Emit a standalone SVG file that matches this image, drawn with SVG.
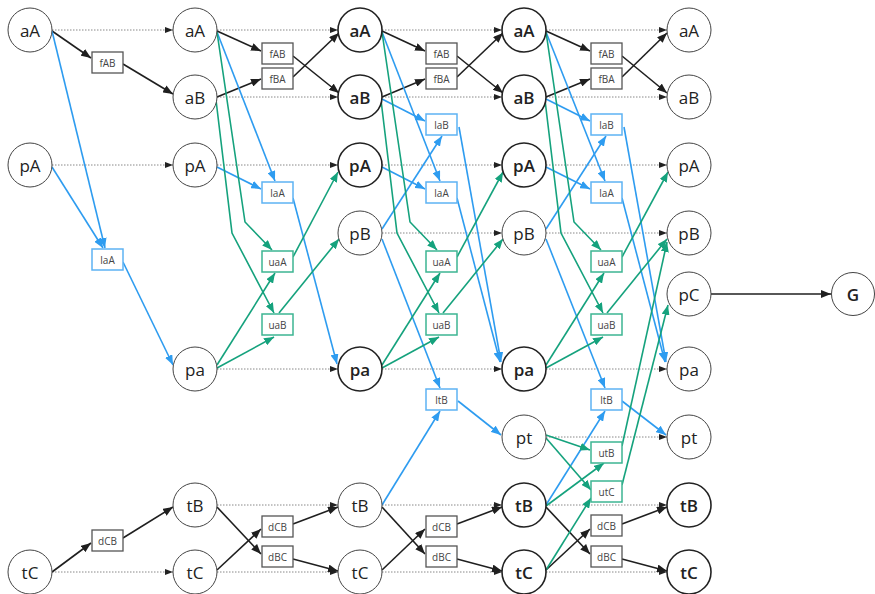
<svg xmlns="http://www.w3.org/2000/svg" width="875" height="594" viewBox="0 0 875 594">
<defs>
<style>
.c{fill:#fff;stroke:#444;stroke-width:1}
.cb{fill:#fff;stroke:#222;stroke-width:1.6}
.t{font-family:"Open Sans","Noto Sans","DejaVu Sans",sans-serif;font-size:17px;fill:#222;text-anchor:middle;dominant-baseline:central}
.tb{font-weight:600}
.bk{fill:#fff;stroke:#555;stroke-width:1.3}
.bbl{fill:#fff;stroke:#5db3f3;stroke-width:1.5}
.bgr{fill:#fff;stroke:#3db592;stroke-width:1.5}
.bt{font-family:"Open Sans","Noto Sans","DejaVu Sans",sans-serif;font-size:10px;fill:#444;text-anchor:middle;dominant-baseline:central}
.ek{fill:none;stroke:#1f1f1f;stroke-width:1.6;marker-end:url(#ak)}
.eb{fill:none;stroke:#2e9cf0;stroke-width:1.6;marker-end:url(#ab)}
.eg{fill:none;stroke:#15a27d;stroke-width:1.6;marker-end:url(#ag)}
.ed{fill:none;stroke:#888;stroke-width:1;stroke-dasharray:1.5 1.5;marker-end:url(#ad)}
</style>
<marker id="ak" viewBox="0 0 10 8" refX="10" refY="4" markerWidth="10" markerHeight="8" orient="auto" markerUnits="userSpaceOnUse"><path d="M0,0L10,4L0,8z" fill="#1f1f1f"/></marker>
<marker id="ab" viewBox="0 0 10 8" refX="10" refY="4" markerWidth="10" markerHeight="8" orient="auto" markerUnits="userSpaceOnUse"><path d="M0,0L10,4L0,8z" fill="#2e9cf0"/></marker>
<marker id="ag" viewBox="0 0 10 8" refX="10" refY="4" markerWidth="10" markerHeight="8" orient="auto" markerUnits="userSpaceOnUse"><path d="M0,0L10,4L0,8z" fill="#15a27d"/></marker>
<marker id="ad" viewBox="0 0 8 6" refX="8" refY="3" markerWidth="8" markerHeight="6" orient="auto" markerUnits="userSpaceOnUse"><path d="M0,0L8,3L0,6z" fill="#222"/></marker>
</defs>
<rect width="875" height="594" fill="#fff"/>

<g id="connectors">
<!-- dotted persistence lines -->
<path class="ed" d="M52,30H173"/>
<path class="ed" d="M217,30H338"/>
<path class="ed" d="M382,30H502"/>
<path class="ed" d="M546,30H667"/>
<path class="ed" d="M217,97H338"/>
<path class="ed" d="M382,97H502"/>
<path class="ed" d="M546,97H667"/>
<path class="ed" d="M52,165H173"/>
<path class="ed" d="M217,165H338"/>
<path class="ed" d="M382,165H502"/>
<path class="ed" d="M546,165H667"/>
<path class="ed" d="M382,233H502"/>
<path class="ed" d="M546,233H667"/>
<path class="ed" d="M217,369H338"/>
<path class="ed" d="M382,369H502"/>
<path class="ed" d="M546,369H667"/>
<path class="ed" d="M546,437H667"/>
<path class="ed" d="M217,505H338"/>
<path class="ed" d="M382,505H502"/>
<path class="ed" d="M546,505H667"/>
<path class="ed" d="M52,572H173"/>
<path class="ed" d="M217,572H338"/>
<path class="ed" d="M382,572H502"/>
<path class="ed" d="M546,572H667"/>

<!-- layer 1 -> 2 -->
<path class="ek" d="M52,31L91,58"/>
<path class="ek" d="M123,64L173,94"/>
<path class="eb" d="M52,31L105,248"/>
<path class="eb" d="M52,167L103,248"/>
<path class="eb" d="M123,262L173,365"/>
<path class="ek" d="M52,572L91,543"/>
<path class="ek" d="M123,538L173,507"/>

<!-- layer 2 -> 3 -->
<path class="ek" d="M217,31L261,51"/>
<path class="ek" d="M217,97L261,79"/>
<path class="ek" d="M293,56L339,93"/>
<path class="ek" d="M293,77L339,33"/>
<path class="ek" d="M217,507L261,554"/>
<path class="ek" d="M217,570L261,529"/>
<path class="ek" d="M293,524L338,507"/>
<path class="ek" d="M293,559L338,571"/>
<path class="eb" d="M217,32L275,181"/>
<path class="eb" d="M217,167L261,189"/>
<path class="eb" d="M293,198L337,364"/>
<path class="eg" d="M217,32L245,222L272,250"/>
<path class="eg" d="M216,100L232,233L274,313"/>
<path class="eg" d="M217,365L275,273"/>
<path class="eg" d="M217,368L274,337"/>
<path class="eg" d="M293,257L338,172"/>
<path class="eg" d="M279,313L339,239"/>

<!-- layer 3 -> 4 -->
<path class="ek" d="M382,31L425,51"/>
<path class="ek" d="M382,97L425,79"/>
<path class="ek" d="M457,56L503,93"/>
<path class="ek" d="M457,77L503,33"/>
<path class="ek" d="M382,507L425,554"/>
<path class="ek" d="M382,570L425,529"/>
<path class="ek" d="M457,524L502,507"/>
<path class="ek" d="M457,559L502,571"/>
<path class="eb" d="M382,32L440,181"/>
<path class="eb" d="M382,167L425,189"/>
<path class="eb" d="M382,99L425,121"/>
<path class="eb" d="M382,229L442,136"/>
<path class="eb" d="M457,198L500,362"/>
<path class="eb" d="M459,127L501,362"/>
<path class="eb" d="M382,505L440,411"/>
<path class="eb" d="M382,239L440,388"/>
<path class="eb" d="M458,401L501,435"/>
<path class="eg" d="M382,32L410,222L437,250"/>
<path class="eg" d="M381,100L397,233L439,313"/>
<path class="eg" d="M382,365L440,273"/>
<path class="eg" d="M382,368L439,337"/>
<path class="eg" d="M457,257L503,172"/>
<path class="eg" d="M443,313L503,239"/>

<!-- layer 4 -> 5 -->
<path class="ek" d="M546,31L590,51"/>
<path class="ek" d="M546,97L590,79"/>
<path class="ek" d="M622,56L667,93"/>
<path class="ek" d="M622,77L667,33"/>
<path class="ek" d="M546,507L590,554"/>
<path class="ek" d="M546,570L590,529"/>
<path class="ek" d="M622,524L667,507"/>
<path class="ek" d="M622,559L667,571"/>
<path class="eb" d="M546,32L605,181"/>
<path class="eb" d="M546,167L590,189"/>
<path class="eb" d="M546,99L590,121"/>
<path class="eb" d="M546,229L606,136"/>
<path class="eb" d="M622,198L665,362"/>
<path class="eb" d="M624,127L666,362"/>
<path class="eb" d="M546,505L605,411"/>
<path class="eb" d="M546,239L605,388"/>
<path class="eb" d="M622,401L666,435"/>
<path class="eg" d="M546,32L574,222L601,250"/>
<path class="eg" d="M545,100L561,233L603,313"/>
<path class="eg" d="M546,365L604,273"/>
<path class="eg" d="M546,368L603,337"/>
<path class="eg" d="M622,257L668,172"/>
<path class="eg" d="M607,313L667,239"/>
<path class="eg" d="M546,435L590,450"/>
<path class="eg" d="M546,438L591,490"/>
<path class="eg" d="M546,506L604,463"/>
<path class="eg" d="M546,570L591,498"/>
<path class="eg" d="M622,446L667,242"/>
<path class="eg" d="M622,485L668,305"/>

<!-- goal -->
<path class="ek" d="M711,294L831,294"/>
</g>

<!-- layer 1 nodes -->
<g id="n1_aA"><circle class="c" cx="30" cy="30" r="22"/><text class="t" x="30" y="30">aA</text></g>
<g id="n1_pA"><circle class="c" cx="30" cy="165" r="22"/><text class="t" x="30" y="165">pA</text></g>
<g id="n1_tC"><circle class="c" cx="30" cy="572" r="22"/><text class="t" x="30" y="572">tC</text></g>

<!-- actions 1-2 -->
<g id="a12_fAB"><rect class="bk" x="92" y="52" width="31" height="21"/><text class="bt" x="107.5" y="62.5">fAB</text></g>
<g id="a12_laA"><rect class="bbl" x="92" y="249" width="31" height="21"/><text class="bt" x="107.5" y="259.5">laA</text></g>
<g id="a12_dCB"><rect class="bk" x="92" y="530" width="31" height="21"/><text class="bt" x="107.5" y="540.5">dCB</text></g>

<!-- layer 2 nodes -->
<g id="n2_aA"><circle class="c" cx="195" cy="30" r="22"/><text class="t" x="195" y="30">aA</text></g>
<g id="n2_aB"><circle class="c" cx="195" cy="97" r="22"/><text class="t" x="195" y="97">aB</text></g>
<g id="n2_pA"><circle class="c" cx="195" cy="165" r="22"/><text class="t" x="195" y="165">pA</text></g>
<g id="n2_pa"><circle class="c" cx="195" cy="369" r="22"/><text class="t" x="195" y="369">pa</text></g>
<g id="n2_tB"><circle class="c" cx="195" cy="505" r="22"/><text class="t" x="195" y="505">tB</text></g>
<g id="n2_tC"><circle class="c" cx="195" cy="572" r="22"/><text class="t" x="195" y="572">tC</text></g>

<!-- actions 2-3 -->
<g id="a23_fAB"><rect class="bk" x="262" y="43" width="31" height="21"/><text class="bt" x="277.5" y="53.5">fAB</text></g>
<g id="a23_fBA"><rect class="bk" x="262" y="68" width="31" height="21"/><text class="bt" x="277.5" y="78.5">fBA</text></g>
<g id="a23_laA"><rect class="bbl" x="262" y="182" width="31" height="21"/><text class="bt" x="277.5" y="192.5">laA</text></g>
<g id="a23_uaA"><rect class="bgr" x="262" y="251" width="31" height="21"/><text class="bt" x="277.5" y="261.5">uaA</text></g>
<g id="a23_uaB"><rect class="bgr" x="262" y="314" width="31" height="21"/><text class="bt" x="277.5" y="324.5">uaB</text></g>
<g id="a23_dCB"><rect class="bk" x="262" y="516" width="31" height="21"/><text class="bt" x="277.5" y="526.5">dCB</text></g>
<g id="a23_dBC"><rect class="bk" x="262" y="546" width="31" height="21"/><text class="bt" x="277.5" y="556.5">dBC</text></g>

<!-- layer 3 nodes -->
<g id="n3_aA"><circle class="cb" cx="360" cy="30" r="22"/><text class="t tb" x="360" y="30">aA</text></g>
<g id="n3_aB"><circle class="cb" cx="360" cy="97" r="22"/><text class="t tb" x="360" y="97">aB</text></g>
<g id="n3_pA"><circle class="cb" cx="360" cy="165" r="22"/><text class="t tb" x="360" y="165">pA</text></g>
<g id="n3_pB"><circle class="c" cx="360" cy="233" r="22"/><text class="t" x="360" y="233">pB</text></g>
<g id="n3_pa"><circle class="cb" cx="360" cy="369" r="22"/><text class="t tb" x="360" y="369">pa</text></g>
<g id="n3_tB"><circle class="c" cx="360" cy="505" r="22"/><text class="t" x="360" y="505">tB</text></g>
<g id="n3_tC"><circle class="c" cx="360" cy="572" r="22"/><text class="t" x="360" y="572">tC</text></g>

<!-- actions 3-4 -->
<g id="a34_fAB"><rect class="bk" x="426" y="43" width="31" height="21"/><text class="bt" x="441.5" y="53.5">fAB</text></g>
<g id="a34_fBA"><rect class="bk" x="426" y="68" width="31" height="21"/><text class="bt" x="441.5" y="78.5">fBA</text></g>
<g id="a34_laB"><rect class="bbl" x="426" y="114" width="31" height="21"/><text class="bt" x="441.5" y="124.5">laB</text></g>
<g id="a34_laA"><rect class="bbl" x="426" y="182" width="31" height="21"/><text class="bt" x="441.5" y="192.5">laA</text></g>
<g id="a34_uaA"><rect class="bgr" x="426" y="251" width="31" height="21"/><text class="bt" x="441.5" y="261.5">uaA</text></g>
<g id="a34_uaB"><rect class="bgr" x="426" y="314" width="31" height="21"/><text class="bt" x="441.5" y="324.5">uaB</text></g>
<g id="a34_ltB"><rect class="bbl" x="426" y="389" width="31" height="21"/><text class="bt" x="441.5" y="399.5">ltB</text></g>
<g id="a34_dCB"><rect class="bk" x="426" y="516" width="31" height="21"/><text class="bt" x="441.5" y="526.5">dCB</text></g>
<g id="a34_dBC"><rect class="bk" x="426" y="546" width="31" height="21"/><text class="bt" x="441.5" y="556.5">dBC</text></g>

<!-- layer 4 nodes -->
<g id="n4_aA"><circle class="cb" cx="524" cy="30" r="22"/><text class="t tb" x="524" y="30">aA</text></g>
<g id="n4_aB"><circle class="cb" cx="524" cy="97" r="22"/><text class="t tb" x="524" y="97">aB</text></g>
<g id="n4_pA"><circle class="cb" cx="524" cy="165" r="22"/><text class="t tb" x="524" y="165">pA</text></g>
<g id="n4_pB"><circle class="c" cx="524" cy="233" r="22"/><text class="t" x="524" y="233">pB</text></g>
<g id="n4_pa"><circle class="cb" cx="524" cy="369" r="22"/><text class="t tb" x="524" y="369">pa</text></g>
<g id="n4_pt"><circle class="c" cx="524" cy="437" r="22"/><text class="t" x="524" y="437">pt</text></g>
<g id="n4_tB"><circle class="cb" cx="524" cy="505" r="22"/><text class="t tb" x="524" y="505">tB</text></g>
<g id="n4_tC"><circle class="cb" cx="524" cy="572" r="22"/><text class="t tb" x="524" y="572">tC</text></g>

<!-- actions 4-5 -->
<g id="a45_fAB"><rect class="bk" x="591" y="43" width="31" height="21"/><text class="bt" x="606.5" y="53.5">fAB</text></g>
<g id="a45_fBA"><rect class="bk" x="591" y="68" width="31" height="21"/><text class="bt" x="606.5" y="78.5">fBA</text></g>
<g id="a45_laB"><rect class="bbl" x="591" y="114" width="31" height="21"/><text class="bt" x="606.5" y="124.5">laB</text></g>
<g id="a45_laA"><rect class="bbl" x="591" y="182" width="31" height="21"/><text class="bt" x="606.5" y="192.5">laA</text></g>
<g id="a45_uaA"><rect class="bgr" x="591" y="251" width="31" height="21"/><text class="bt" x="606.5" y="261.5">uaA</text></g>
<g id="a45_uaB"><rect class="bgr" x="591" y="314" width="31" height="21"/><text class="bt" x="606.5" y="324.5">uaB</text></g>
<g id="a45_ltB"><rect class="bbl" x="591" y="389" width="31" height="21"/><text class="bt" x="606.5" y="399.5">ltB</text></g>
<g id="a45_utB"><rect class="bgr" x="591" y="442" width="31" height="21"/><text class="bt" x="606.5" y="452.5">utB</text></g>
<g id="a45_utC"><rect class="bgr" x="591" y="481" width="31" height="21"/><text class="bt" x="606.5" y="491.5">utC</text></g>
<g id="a45_dCB"><rect class="bk" x="591" y="515" width="31" height="21"/><text class="bt" x="606.5" y="525.5">dCB</text></g>
<g id="a45_dBC"><rect class="bk" x="591" y="546" width="31" height="21"/><text class="bt" x="606.5" y="556.5">dBC</text></g>

<!-- layer 5 nodes -->
<g id="n5_aA"><circle class="c" cx="689" cy="30" r="22"/><text class="t" x="689" y="30">aA</text></g>
<g id="n5_aB"><circle class="c" cx="689" cy="97" r="22"/><text class="t" x="689" y="97">aB</text></g>
<g id="n5_pA"><circle class="c" cx="689" cy="165" r="22"/><text class="t" x="689" y="165">pA</text></g>
<g id="n5_pB"><circle class="c" cx="689" cy="233" r="22"/><text class="t" x="689" y="233">pB</text></g>
<g id="n5_pC"><circle class="c" cx="689" cy="294" r="22"/><text class="t" x="689" y="294">pC</text></g>
<g id="n5_pa"><circle class="c" cx="689" cy="369" r="22"/><text class="t" x="689" y="369">pa</text></g>
<g id="n5_pt"><circle class="c" cx="689" cy="437" r="22"/><text class="t" x="689" y="437">pt</text></g>
<g id="n5_tB"><circle class="cb" cx="689" cy="505" r="22"/><text class="t tb" x="689" y="505">tB</text></g>
<g id="n5_tC"><circle class="cb" cx="689" cy="572" r="22"/><text class="t tb" x="689" y="572">tC</text></g>

<g id="goal"><circle class="c" cx="853" cy="294" r="21.5"/><text class="t tb" x="853" y="294">G</text></g>
</svg>
